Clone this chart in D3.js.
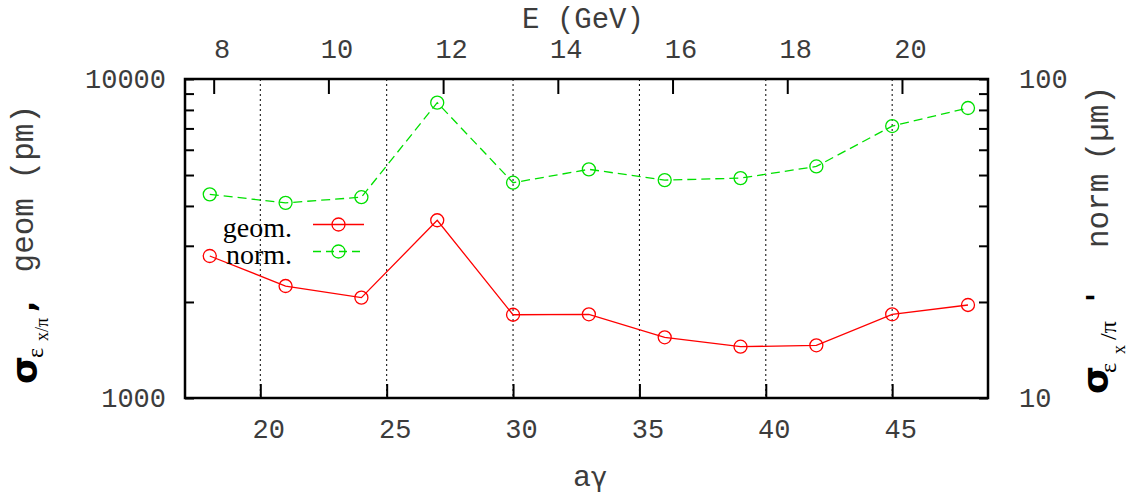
<!DOCTYPE html>
<html>
<head>
<meta charset="utf-8">
<script src="https://cdn.jsdelivr.net/npm/d3@7"></script>
<style>
  html, body { margin: 0; padding: 0; background: #fff; }
  svg { display: block; }
  .tick text { font-family: "Liberation Mono", monospace; fill: #3c3c3c; }
</style>
</head>
<body>
<svg id="chart" width="1135" height="494"></svg>
<script>
// Spin tune aγ of each measurement
const aGamma = [18, 21, 24, 27, 30, 33, 36, 39, 42, 45, 48];
// Geometric emittance σ(εx/π) in pm (left axis)
const geomPm = [2787, 2244, 2063, 3607, 1824, 1830, 1550, 1448, 1463, 1830, 1957];
// Normalised emittance in µm (right axis)
const normUm = [43.5, 40.9, 42.6, 84.3, 47.3, 52.1, 48.2, 48.9, 53.2, 71.2, 81.1];

const bottomTicks = [20, 25, 30, 35, 40, 45];
const topTicks = [8, 10, 12, 14, 16, 18, 20];
const leftMinor = [1000, 2000, 3000, 4000, 5000, 6000, 7000, 8000, 9000, 10000];
const leftLabels = [1000, 10000];
const rightMinor = [10, 20, 30, 40, 50, 60, 70, 80, 90, 100];
const rightLabels = [10, 100];

const gevPerAGamma = 0.44065;     // E = aγ · 0.44065 GeV
const energyRange = [7.5, 21.5];  // GeV

const W = 1135, H = 494;
const m = { left: 185, right: 988, top: 79, bottom: 398 };
const textGrey = "#3c3c3c";

const svg = d3.select("#chart");
svg.append("rect").attr("width", W).attr("height", H).attr("fill", "#fff");

const xE = d3.scaleLinear().domain(energyRange).range([m.left, m.right]);
const x = d3.scaleLinear()
  .domain(energyRange.map(e => e / gevPerAGamma))
  .range([m.left, m.right]);
const yL = d3.scaleLog().domain([1000, 10000]).range([m.bottom, m.top]);
const yR = d3.scaleLog().domain([10, 100]).range([m.bottom, m.top]);

// vertical dotted grid at the aγ ticks
svg.append("g").selectAll("line").data(bottomTicks).join("line")
  .attr("x1", d => x(d)).attr("x2", d => x(d))
  .attr("y1", m.top).attr("y2", m.bottom)
  .attr("stroke", "#000").attr("stroke-width", 1)
  .attr("stroke-dasharray", "2,3");

function styleAxis(g, size, dx) {
  g.select(".domain").remove();
  g.selectAll(".tick line").attr("stroke", "#000").attr("stroke-width", 2);
  g.selectAll(".tick text").attr("font-size", size);
  if (dx) g.selectAll(".tick text").attr("dx", dx);
}

// bottom axis: aγ
svg.append("g").attr("transform", `translate(0,${m.bottom})`)
  .call(d3.axisBottom(x).tickValues(bottomTicks).tickSizeInner(-14).tickSizeOuter(0).tickPadding(21))
  .call(g => styleAxis(g, 27, 8));

// top axis: beam energy
svg.append("g").attr("transform", `translate(0,${m.top})`)
  .call(d3.axisTop(xE).tickValues(topTicks).tickSizeInner(-15).tickSizeOuter(0).tickPadding(21))
  .call(g => styleAxis(g, 27, 8));

// left axis: geometric emittance (log)
svg.append("g").attr("transform", `translate(${m.left},0)`)
  .call(d3.axisLeft(yL).tickValues(leftMinor).tickSizeInner(-9).tickSizeOuter(0).tickPadding(19)
    .tickFormat(d => leftLabels.includes(d) ? String(d) : ""))
  .call(g => styleAxis(g, 27));

// right axis: normalised emittance (log)
svg.append("g").attr("transform", `translate(${m.right},0)`)
  .call(d3.axisRight(yR).tickValues(rightMinor).tickSizeInner(-9).tickSizeOuter(0).tickPadding(31)
    .tickFormat(d => rightLabels.includes(d) ? String(d) : ""))
  .call(g => styleAxis(g, 27));

// series
const rows = aGamma.map((a, i) => ({ a, geom: geomPm[i], norm: normUm[i] }));

function drawSeries(yScale, key, color, dash) {
  svg.append("path").datum(rows)
    .attr("fill", "none").attr("stroke", color).attr("stroke-width", 1.3)
    .attr("stroke-dasharray", dash)
    .attr("d", d3.line().x(d => x(d.a)).y(d => yScale(d[key])));
  svg.append("g").selectAll("circle").data(rows).join("circle")
    .attr("cx", d => x(d.a)).attr("cy", d => yScale(d[key])).attr("r", 6.5)
    .attr("fill", "none").attr("stroke", color).attr("stroke-width", 1.3);
}
drawSeries(yL, "geom", "#ff0000", null);
drawSeries(yR, "norm", "#00e000", "9,5");

// frame
svg.append("rect")
  .attr("x", m.left).attr("y", m.top)
  .attr("width", m.right - m.left).attr("height", m.bottom - m.top)
  .attr("fill", "none").attr("stroke", "#000").attr("stroke-width", 2.5);

// legend
const legend = [
  { label: "geom.", color: "#ff0000", dash: null, y: 224.5 },
  { label: "norm.", color: "#00e000", dash: "8,5", y: 251.5 }
];
const lg = svg.append("g");
legend.forEach(l => {
  lg.append("text").attr("x", 292).attr("y", l.y + 12)
    .attr("text-anchor", "end")
    .attr("font-family", "Liberation Serif, serif").attr("font-size", 28)
    .attr("fill", "#000").text(l.label);
  lg.append("line").attr("x1", 313).attr("x2", 364).attr("y1", l.y).attr("y2", l.y)
    .attr("stroke", l.color).attr("stroke-width", 1.3).attr("stroke-dasharray", l.dash);
  lg.append("circle").attr("cx", 338.5).attr("cy", l.y).attr("r", 6.5)
    .attr("fill", "none").attr("stroke", l.color).attr("stroke-width", 1.3);
});

// axis titles
const mono = "Liberation Mono, monospace";
svg.append("text").attr("x", 583).attr("y", 28).attr("text-anchor", "middle")
  .attr("font-family", mono).attr("font-size", 29).attr("fill", textGrey)
  .text("E (GeV)");

const agt = svg.append("text").attr("x", 590).attr("y", 486).attr("text-anchor", "middle")
  .attr("font-family", mono).attr("font-size", 30).attr("fill", textGrey);
agt.append("tspan").text("a");
agt.append("tspan").attr("font-family", "DejaVu Sans, sans-serif").attr("font-size", 27).text("γ");

// rotated y titles, pieces placed along the reading direction from the bottom up
function yTitle(baseX, parts) {
  const g = svg.append("g").attr("transform", `translate(${baseX},0) rotate(-90)`);
  parts.forEach(p => {
    g.append("text")
      .attr("x", -p.y).attr("y", p.dv || 0)
      .attr("text-anchor", p.anchor || "start")
      .attr("font-family", p.font || mono)
      .attr("font-size", p.size)
      .attr("font-weight", p.bold ? "bold" : "normal")
      .attr("fill", p.color || textGrey)
      .text(p.t);
  });
}
yTitle(33, [
  { t: "σ", y: 384, size: 36, bold: true, font: "DejaVu Sans, sans-serif", color: "#000", dv: 4 },
  { t: "ε", y: 358, size: 24, font: "Liberation Serif, serif", color: "#000", dv: 10 },
  { t: "x/π", y: 341, size: 18, font: "Liberation Serif, serif", color: "#000", dv: 15 },
  { t: ",", y: 312, size: 30, bold: true, font: "DejaVu Sans, sans-serif", color: "#000", dv: 2 },
  { t: "geom (pm)", y: 105, size: 31, anchor: "end" }
]);
yTitle(1108, [
  { t: "σ", y: 394, size: 36, bold: true, font: "DejaVu Sans, sans-serif", color: "#000", dv: 0 },
  { t: "ε", y: 373, size: 24, font: "Liberation Serif, serif", color: "#000", dv: 8 },
  { t: "x", y: 354, size: 18, font: "Liberation Serif, serif", color: "#000", dv: 17 },
  { t: "/π", y: 340, size: 24, font: "Liberation Serif, serif", color: "#000", dv: 8 },
  { t: "'", y: 302, size: 30, bold: true, font: "DejaVu Sans, sans-serif", color: "#000", dv: 0 },
  { t: "norm", y: 248, size: 31, anchor: "start" },
  { t: "(µm)", y: 86, size: 31, anchor: "end" }
]);
</script>
</body>
</html>
